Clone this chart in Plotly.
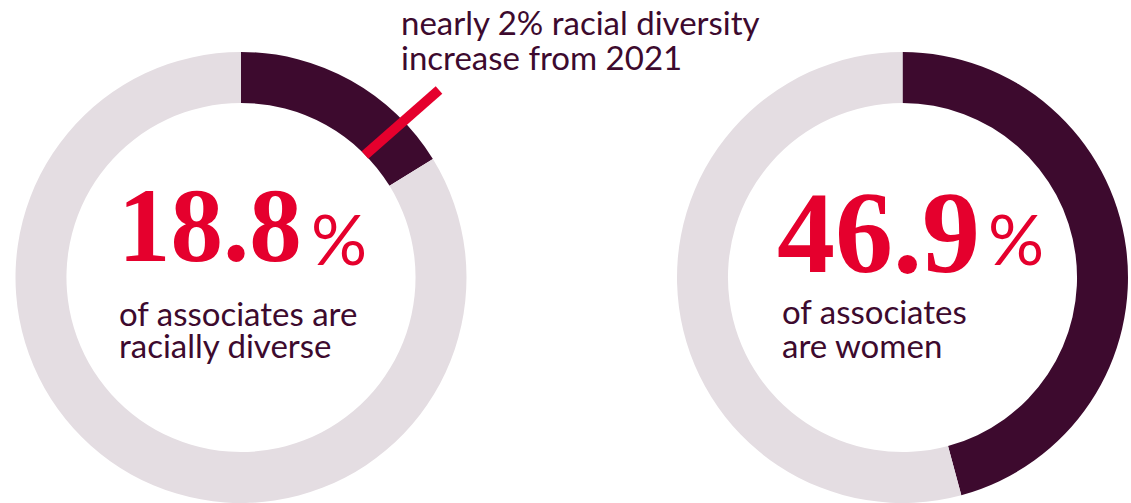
import plotly.graph_objects as go

# ---- data ----
labels = ["share", "rest"]
diverse_arc = [16.2, 83.8]      # arc as drawn in the graphic
women_arc = [45.8, 54.2]
diverse_label = "18.8"
women_label = "46.9"
diverse_caption = ["of associates are", "racially diverse"]
women_caption = ["of associates", "are women"]
callout = ["nearly 2% racial diversity", "increase from 2021"]

DARK = "#3D0A2E"
LIGHT = "#E4DDE2"
RED = "#E5002D"
W, H = 1131, 503

def px(x):
    return x / W

def py(y):
    return 1 - y / H

fig = go.Figure()
for vals, x0, x1 in [(diverse_arc, 15.5, 466.5), (women_arc, 677, 1128)]:
    fig.add_trace(go.Pie(
        labels=labels, values=vals, hole=0.774, sort=False,
        direction="clockwise", rotation=0,
        marker=dict(colors=[DARK, LIGHT], line=dict(width=0)),
        textinfo="none", hoverinfo="skip", showlegend=False,
        domain=dict(x=[px(x0), px(x1)], y=[0, py(52)]),
    ))

ann = []
def text(x, y, t, size, color, family, weight="normal"):
    ann.append(dict(x=px(x), y=py(y), xref="paper", yref="paper", text=t,
                    showarrow=False, xanchor="left", yanchor="middle",
                    font=dict(size=size, color=color, family=family, weight=weight)))

SERIF = "Liberation Serif"
SANS = "Lato"
# big numbers
text(116, 226, diverse_label, 105, RED, SERIF, "bold")
text(309, 238, "%", 70, RED, SANS)
text(775, 233, women_label, 116, RED, SERIF, "bold")
text(986, 238, "%", 70, RED, SANS)
# captions
for i, t in enumerate(diverse_caption):
    text(117, 313 + 32 * i, t, 33, DARK, SANS)
for i, t in enumerate(women_caption):
    text(780, 311 + 34 * i, t, 33, DARK, SANS)
# callout
for i, t in enumerate(callout):
    text(399, 22 + 35 * i, t, 33, DARK, SANS)

fig.update_layout(
    width=W, height=H, margin=dict(l=0, r=0, t=0, b=0),
    paper_bgcolor="white", plot_bgcolor="white",
    annotations=ann,
    shapes=[dict(type="line", xref="paper", yref="paper",
                 x0=px(365), y0=py(155), x1=px(439), y1=py(90),
                 line=dict(color=RED, width=10))],
)
fig.write_html("out.html")
